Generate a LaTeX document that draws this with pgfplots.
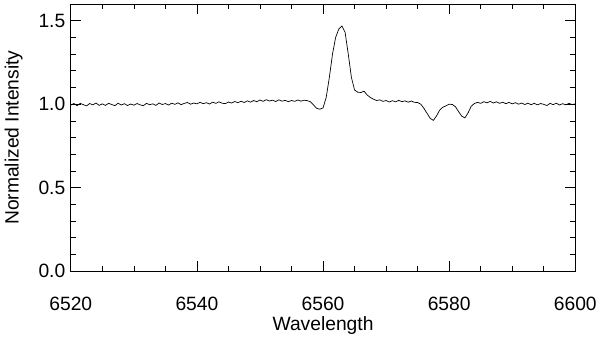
\documentclass[border=0pt]{standalone}
\usepackage{pgfplots}
\pgfplotsset{compat=1.18}
\usepackage{fontspec}
\setmainfont{Liberation Sans}
\begin{document}
\begin{tikzpicture}
\begin{axis}[
  scale only axis,
  width=506bp, height=268bp,
  xmin=6520, xmax=6600, ymin=0, ymax=1.6,
  xtick={6520,6540,6560,6580,6600},
  minor x tick num=3,
  ytick={0,0.5,1.0,1.5},
  minor y tick num=4,
  yticklabel style={/pgf/number format/fixed, /pgf/number format/fixed zerofill, /pgf/number format/precision=1, xshift=-2bp},
  xticklabel style={/pgf/number format/1000 sep={}, yshift=-22bp},
  /pgf/number format/assume math mode=true,
  tick align=inside,
  major tick length=10bp, minor tick length=5bp,
  tick style={black, line width=0.6bp},
  axis line style={line width=0.8bp},
  font=\fontsize{19.3bp}{23bp}\selectfont,
  xlabel={Wavelength},
  ylabel={Normalized Intensity},
  xlabel style={yshift=1bp},
  ylabel style={yshift=9bp},
]
\addplot[black, line width=0.7bp] coordinates {
(6520,0.995)(6520.5,1.004)(6521,0.991)(6521.5,1.005)(6522,0.997)(6522.5,0.990)(6523,1.004)(6523.5,0.996)(6524,1.007)(6524.5,0.993)
(6525,1.002)(6525.5,0.993)(6526,1.005)(6526.5,0.998)(6527,0.991)(6527.5,1.006)(6528,0.995)(6528.5,1.003)(6529,0.992)(6529.5,1.001)
(6530,0.994)(6530.5,1.004)(6531,0.996)(6531.5,0.991)(6532,1.005)(6532.5,0.997)(6533,1.002)(6533.5,0.993)(6534,1.007)(6534.5,0.998)
(6535,1.004)(6535.5,0.995)(6536,1.006)(6536.5,0.999)(6537,1.008)(6537.5,0.997)(6538,1.005)(6538.5,1.010)(6539,1.000)(6539.5,1.007)
(6540,1.002)(6540.5,1.011)(6541,1.003)(6541.5,1.009)(6542,1.001)(6542.5,1.012)(6543,1.005)(6543.5,1.014)(6544,1.006)(6544.5,1.003)
(6545,1.013)(6545.5,1.007)(6546,1.016)(6546.5,1.009)(6547,1.018)(6547.5,1.010)(6548,1.020)(6548.5,1.012)(6549,1.022)(6549.5,1.015)
(6550,1.025)(6550.5,1.017)(6551,1.027)(6551.5,1.019)(6552,1.024)(6552.5,1.016)(6553,1.026)(6553.5,1.018)(6554,1.023)(6554.5,1.015)
(6555,1.022)(6555.5,1.017)(6556,1.025)(6556.5,1.018)(6557,1.024)(6557.5,1.021)(6558,1.015)(6558.5,0.995)(6559,0.975)(6559.5,0.970)
(6560,0.978)(6560.5,1.040)(6561,1.160)(6561.5,1.300)(6562,1.400)(6562.5,1.450)(6563,1.468)(6563.5,1.430)(6564,1.300)(6564.5,1.160)
(6565,1.085)(6565.5,1.072)(6566,1.070)(6566.5,1.078)(6567,1.055)(6567.5,1.040)(6568,1.030)(6568.5,1.022)(6569,1.026)(6569.5,1.017)
(6570,1.022)(6570.5,1.013)(6571,1.021)(6571.5,1.014)(6572,1.023)(6572.5,1.015)(6573,1.020)(6573.5,1.012)(6574,1.019)(6574.5,1.011)
(6575,1.010)(6575.5,1.000)(6576,0.975)(6576.5,0.945)(6577,0.915)(6577.5,0.903)(6578,0.930)(6578.5,0.965)(6579,0.982)(6579.5,0.990)
(6580,1.000)(6580.5,0.998)(6581,0.985)(6581.5,0.955)(6582,0.928)(6582.5,0.918)(6583,0.948)(6583.5,0.988)(6584,1.004)(6584.5,1.011)
(6585,1.005)(6585.5,1.015)(6586,1.008)(6586.5,1.017)(6587,1.007)(6587.5,1.014)(6588,1.005)(6588.5,1.012)(6589,1.003)(6589.5,1.011)
(6590,1.002)(6590.5,1.009)(6591,1.000)(6591.5,1.007)(6592,0.998)(6592.5,1.006)(6593,0.997)(6593.5,1.005)(6594,0.996)(6594.5,1.004)
(6595,0.999)(6595.5,0.992)(6596,1.005)(6596.5,0.997)(6597,1.006)(6597.5,0.995)(6598,1.003)(6598.5,0.996)(6599,1.005)(6599.5,0.998)
(6600,1.002)
};
\end{axis}
\path (current axis.south west) ++(-71bp,-69bp) coordinate (bl);
\path (current axis.north east) ++(23bp,4bp) coordinate (tr);
\path (bl) (tr);
\end{tikzpicture}
\end{document}
